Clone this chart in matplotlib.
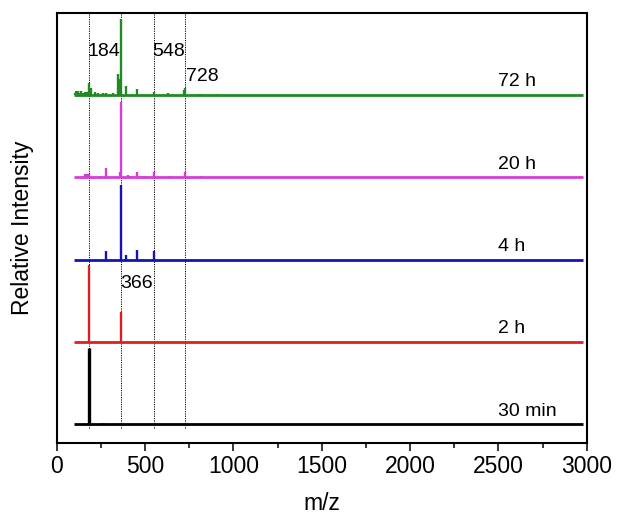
import matplotlib.pyplot as plt
import numpy as np

plt.rcParams['font.family'] = ['Liberation Sans', 'DejaVu Sans']

# stick spectra (m/z, relative height), one per sampling time
labels = ["30 min", "2 h", "4 h", "20 h", "72 h"]
colors = ["black", "#dd1f1f", "#1414b4", "#d63cd6", "#238a23"]

mz_30min = [184, 262]
h_30min = [0.93, 0.015]

mz_2h = [184, 366]
h_2h = [0.93, 0.37]

mz_4h = [281, 366, 391, 455, 548]
h_4h = [0.11, 0.91, 0.06, 0.12, 0.11]

mz_20h = [158, 170, 181, 238, 281, 360, 366, 402, 419, 455, 485, 508, 548, 640, 728, 819]
h_20h = [0.04, 0.04, 0.04, 0.02, 0.11, 0.06, 0.92, 0.03, 0.02, 0.07, 0.02, 0.02, 0.06, 0.015, 0.065, 0.01]

mz_72h = [102, 112, 121, 130, 140, 150, 158, 172, 184, 196, 215, 234, 262, 281, 317,
          347, 353, 366, 394, 455, 548, 628, 722, 728, 810, 905]
h_72h = [0.03, 0.05, 0.05, 0.03, 0.05, 0.02, 0.04, 0.04, 0.15, 0.08, 0.04, 0.03, 0.03, 0.02, 0.02,
         0.25, 0.2, 0.92, 0.11, 0.07, 0.04, 0.02, 0.06, 0.09, 0.015, 0.01]

spectra = [(mz_30min, h_30min), (mz_2h, h_2h), (mz_4h, h_4h), (mz_20h, h_20h), (mz_72h, h_72h)]

mz_start, mz_end = 100, 2980
marked_mz = [184, 366, 548, 728]
peak_notes = [("184", 174, 4.53), ("548", 542, 4.53), ("728", 733, 4.22), ("366", 362, 1.71)]

fig = plt.figure(figsize=(6.17, 5.16), dpi=100)
ax = fig.add_axes([0.0919, 0.1415, 0.859, 0.834])

# dotted guide lines
ax.vlines(marked_mz, -0.05, 5.0, colors="black", linestyles=(0, (1.2, 1.2)), lw=0.7, zorder=1)

for i, ((mz, h), c, lab) in enumerate(zip(spectra, colors, labels)):
    offset = i * 1.0
    ax.hlines(offset, mz_start, mz_end, colors=c, lw=2.0, zorder=3)
    ax.vlines(mz, offset, offset + np.array(h), colors=c, lw=1.7 if i > 0 else 2.4, zorder=3)
    ax.text(2496, offset + 0.16, lab, fontsize=14, ha="left", va="center")

for txt, x, y in peak_notes:
    ax.text(x, y, txt, fontsize=14, ha="left", va="center")

ax.set_xlim(0, 3000)
ax.set_ylim(-0.227, 5.0)
ax.set_xticks(np.arange(0, 3001, 500))
ax.set_xticks(np.arange(250, 3000, 500), minor=True)
ax.set_yticks([])
ax.tick_params(axis="x", which="major", length=5.8, width=1.1, labelsize=16.5, direction="out", pad=3)
ax.tick_params(axis="x", which="minor", length=3.6, width=1.1, direction="out")
for s in ax.spines.values():
    s.set_linewidth(1.5)

ax.set_xlabel("m/z", fontsize=16.5, labelpad=10)
ax.set_ylabel("Relative Intensity", fontsize=16.5, labelpad=16)

fig.savefig("out.png", dpi=100)
